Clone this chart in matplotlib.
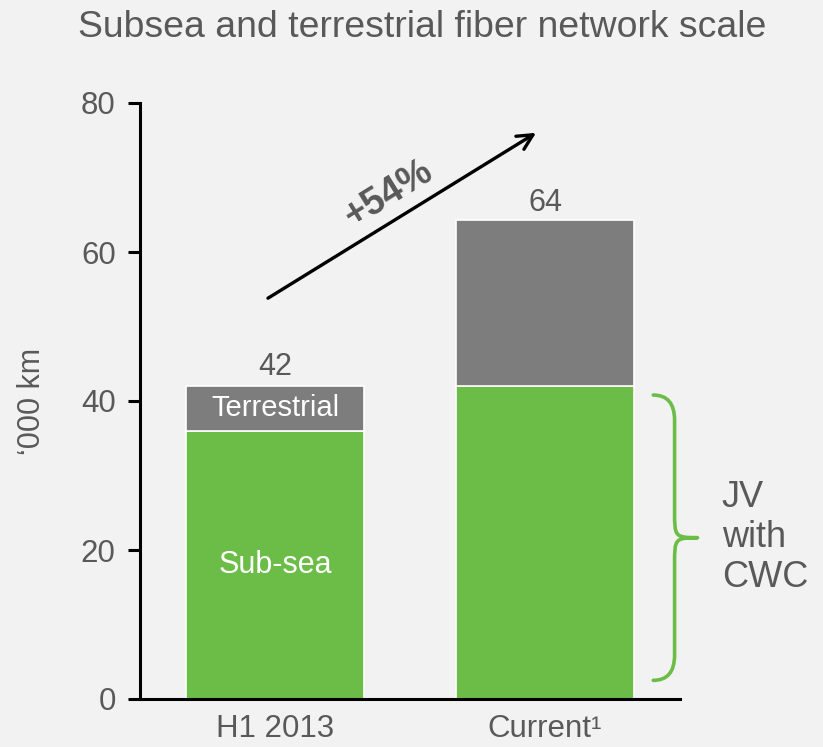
import numpy as np
import matplotlib
matplotlib.use("Agg")
import matplotlib.pyplot as plt
from matplotlib.path import Path
from matplotlib.patches import PathPatch

plt.rcParams['font.family'] = ['Liberation Sans', 'DejaVu Sans']

# Data ('000 km)
categories = ["H1 2013", "Current\u00b9"]
subsea = [36, 42]
terrestrial = [6, 22.3]
totals = [42, 64]
growth_label = "+54%"

GREEN = "#6bbd47"
GREY = "#7d7d7d"
TEXT = "#595959"
BG = "#f2f2f2"

fig = plt.figure(figsize=(8.23, 7.47), dpi=100, facecolor=BG)
ax = fig.add_axes([140 / 823, 1 - 699 / 747, 540 / 823, 596 / 747])
ax.set_facecolor(BG)

x = np.arange(len(categories))
w = 0.66
ax.bar(x, subsea, width=w, color=GREEN, edgecolor="white", linewidth=1.2, zorder=2)
ax.bar(x, terrestrial, width=w, bottom=subsea, color=GREY, edgecolor="white",
       linewidth=1.2, zorder=2)

ax.set_xlim(-0.5, 1.5)
ax.set_ylim(0, 80)
ax.set_yticks([0, 20, 40, 60, 80])
ax.set_xticks(x)
ax.set_xticklabels(categories)

for s in ("top", "right"):
    ax.spines[s].set_visible(False)
for s in ("left", "bottom"):
    ax.spines[s].set_linewidth(2.2)
    ax.spines[s].set_color("black")

ax.tick_params(axis="y", direction="out", length=8.5, width=2.2, color="black",
               labelsize=22.5, labelcolor=TEXT, pad=9)
ax.tick_params(axis="x", length=0, labelsize=22.5, labelcolor=TEXT, pad=11)

ax.set_ylabel("\u2018000 km", fontsize=22, color=TEXT, labelpad=24)

# Totals above bars
for xi, t in zip(x, totals):
    ax.text(xi, t + 0.5, f"{t}", ha="center", va="bottom", fontsize=22, color=TEXT)

# Segment labels inside first bar
ax.text(x[0], subsea[0] + terrestrial[0] / 2, "Terrestrial", ha="center", va="center",
        fontsize=21, color="white", zorder=3)
ax.text(x[0], subsea[0] / 2, "Sub-sea", ha="center", va="center",
        fontsize=22, color="white", zorder=3)

# Growth arrow
p0 = (-0.026, 53.8)
p1 = (0.967, 76.0)
ax.annotate("", xy=p1, xytext=p0,
            arrowprops=dict(arrowstyle="->,head_length=1.1,head_width=0.55",
                            color="black", lw=2.4, shrinkA=0, shrinkB=0),
            annotation_clip=False)
fig.canvas.draw()
d0 = ax.transData.transform(p0)
d1 = ax.transData.transform(p1)
angle = np.degrees(np.arctan2(d1[1] - d0[1], d1[0] - d0[0]))
ax.text(0.42, 67.8, growth_label, rotation=angle, rotation_mode="anchor",
        ha="center", va="center", fontsize=27, fontweight="bold", color=TEXT)

# Curly brace marking the JV portion
xa, xb, xt = 1.401, 1.48, 1.565
ytop, ybot = 40.8, 2.5
ymid = (ytop + ybot) / 2
c = 3.4
verts = [
    (xa, ytop), (xb, ytop), (xb, ytop - c),
    (xb, ymid + c),
    (xb, ymid + 0.2), (xb, ymid), (xt, ymid),
    (xb, ymid), (xb, ymid - 0.2), (xb, ymid - c),
    (xb, ybot + c),
    (xb, ybot), (xa, ybot),
]
codes = [Path.MOVETO, Path.CURVE3, Path.CURVE3,
         Path.LINETO,
         Path.CURVE4, Path.CURVE4, Path.CURVE4,
         Path.CURVE4, Path.CURVE4, Path.CURVE4,
         Path.LINETO,
         Path.CURVE3, Path.CURVE3]
brace = PathPatch(Path(verts, codes), facecolor="none", edgecolor=GREEN, lw=2.6,
                  clip_on=False, capstyle="round", joinstyle="round")
ax.add_patch(brace)
ax.text(1.655, ymid, "JV\nwith\nCWC", ha="left", va="center", fontsize=26,
        color=TEXT, linespacing=1.18)

fig.text(78 / 823, 1 - 37 / 747, "Subsea and terrestrial fiber network scale",
         ha="left", va="baseline", fontsize=26.9, color=TEXT)

fig.savefig("out.png", dpi=100, facecolor=BG)
